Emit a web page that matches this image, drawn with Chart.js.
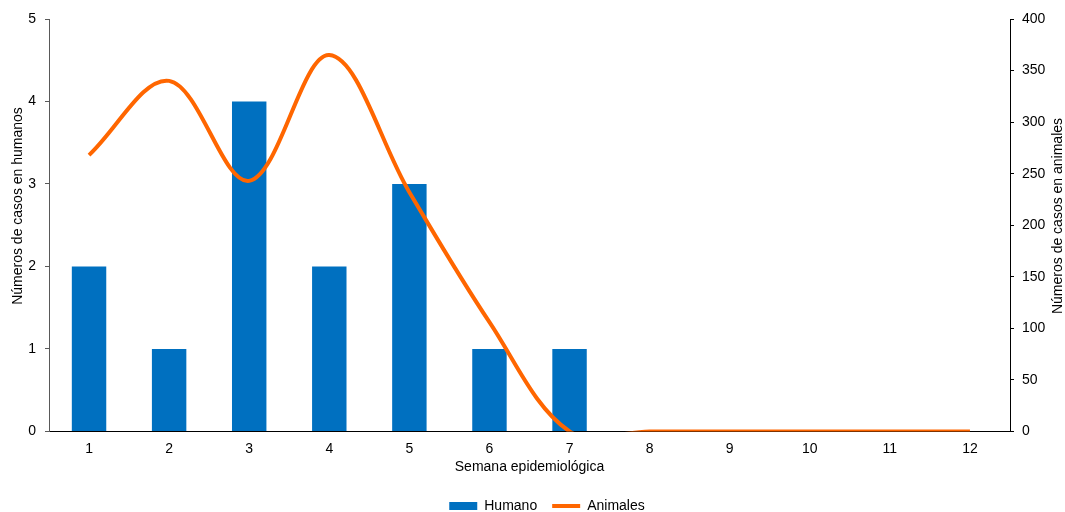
<!DOCTYPE html>
<html>
<head>
<meta charset="utf-8">
<script src="https://cdn.jsdelivr.net/npm/chart.js@4/dist/chart.umd.min.js"></script>
<style>
    html, body { margin: 0; padding: 0; background: #fff; }
    #wrap { width: 1065px; height: 512px; }
</style>
</head>
<body>
<div id="wrap"><canvas id="chart"></canvas></div>
<script>
// Semanas epidemiológicas
const semanas = ['1', '2', '3', '4', '5', '6', '7', '8', '9', '10', '11', '12'];
// Casos en humanos (eje izquierdo)
const humanos = [2, 1, 4, 2, 3, 1, 1, 0, 0, 0, 0, 0];
// Casos en animales (eje derecho)
const animales = [268, 340, 243, 365, 232, 106, 0, 0, 0, 0, 0, 0];

const tituloIzq = 'Números de casos en humanos';
const tituloDer = 'Números de casos en animales';

const colorHumano = '#0070C0';
const colorAnimales = '#FF6600';
const fontFamily = '"Liberation Sans", Arial, sans-serif';
const font14 = { family: fontFamily, size: 14 };

// Both y titles read bottom-to-top, so draw them ourselves
const yTitles = {
    id: 'yTitles',
    afterLayout: function (chart) {
        // the legend sits a bit right of centre in the original
        if (chart.legend) {
            chart.legend.left += 11;
            chart.legend.right += 11;
        }
    },
    afterDraw: function (chart) {
        const c = chart.ctx;
        c.save();
        c.font = '14px ' + fontFamily;
        c.fillStyle = '#000';
        c.textAlign = 'center';
        c.textBaseline = 'middle';
        [[tituloIzq, 18, 206], [tituloDer, 1058, 216]].forEach(function (t) {
            c.save();
            c.translate(t[1], t[2]);
            c.rotate(-Math.PI / 2);
            c.fillText(t[0], 0, 0);
            c.restore();
        });
        c.restore();
    }
};

const ctx = document.getElementById('chart').getContext('2d');

new Chart(ctx, {
    type: 'bar',
    data: {
        labels: semanas,
        datasets: [
            {
                type: 'line',
                label: 'Animales',
                data: animales,
                yAxisID: 'y1',
                borderColor: colorAnimales,
                backgroundColor: colorAnimales,
                borderWidth: 4,
                pointRadius: 0,
                tension: 0.35,
                order: 0
            },
            {
                type: 'bar',
                label: 'Humano',
                data: humanos,
                yAxisID: 'y',
                backgroundColor: colorHumano,
                categoryPercentage: 1,
                barPercentage: 0.43,
                order: 1
            }
        ]
    },
    plugins: [yTitles],
    options: {
        responsive: true,
        maintainAspectRatio: false,
        animation: false,
        elements: { line: { capBezierPoints: false } },
        layout: { padding: { top: 19, right: 3, left: 10, bottom: -11 } },
        plugins: {
            legend: {
                position: 'bottom',
                labels: {
                    font: font14,
                    color: '#000',
                    usePointStyle: true,
                    pointStyleWidth: 28,
                    boxHeight: 8,
                    padding: 15,
                    generateLabels: function () {
                        return [
                            { text: 'Humano', fillStyle: colorHumano, strokeStyle: colorHumano, lineWidth: 0, pointStyle: 'rect', datasetIndex: 1 },
                            { text: 'Animales', fillStyle: colorAnimales, strokeStyle: colorAnimales, lineWidth: 4, pointStyle: 'line', datasetIndex: 0 }
                        ];
                    }
                }
            },
            tooltip: { enabled: false }
        },
        scales: {
            x: {
                grid: { display: false, drawTicks: false },
                border: { display: true, color: '#000', width: 1 },
                ticks: { color: '#000', font: font14, padding: 9 },
                title: {
                    display: true,
                    text: 'Semana epidemiológica',
                    color: '#000',
                    font: font14,
                    padding: { top: 0, bottom: 8 }
                },
                afterFit: function (scale) { scale.height = 52.6; }
            },
            y: {
                position: 'left',
                min: 0,
                max: 5,
                ticks: { stepSize: 1, color: '#000', font: font14, padding: 9 },
                grid: { drawOnChartArea: false, tickLength: 4, color: '#595959' },
                border: { color: '#595959', width: 1 },
                afterFit: function (scale) { scale.width = 39; }
            },
            y1: {
                position: 'right',
                min: 0,
                max: 400,
                ticks: { stepSize: 50, color: '#000', font: font14, padding: 8 },
                grid: { drawOnChartArea: false, tickLength: 4, color: '#000' },
                border: { color: '#000', width: 1 },
                afterFit: function (scale) { scale.width = 52; }
            }
        }
    }
});
</script>
</body>
</html>
